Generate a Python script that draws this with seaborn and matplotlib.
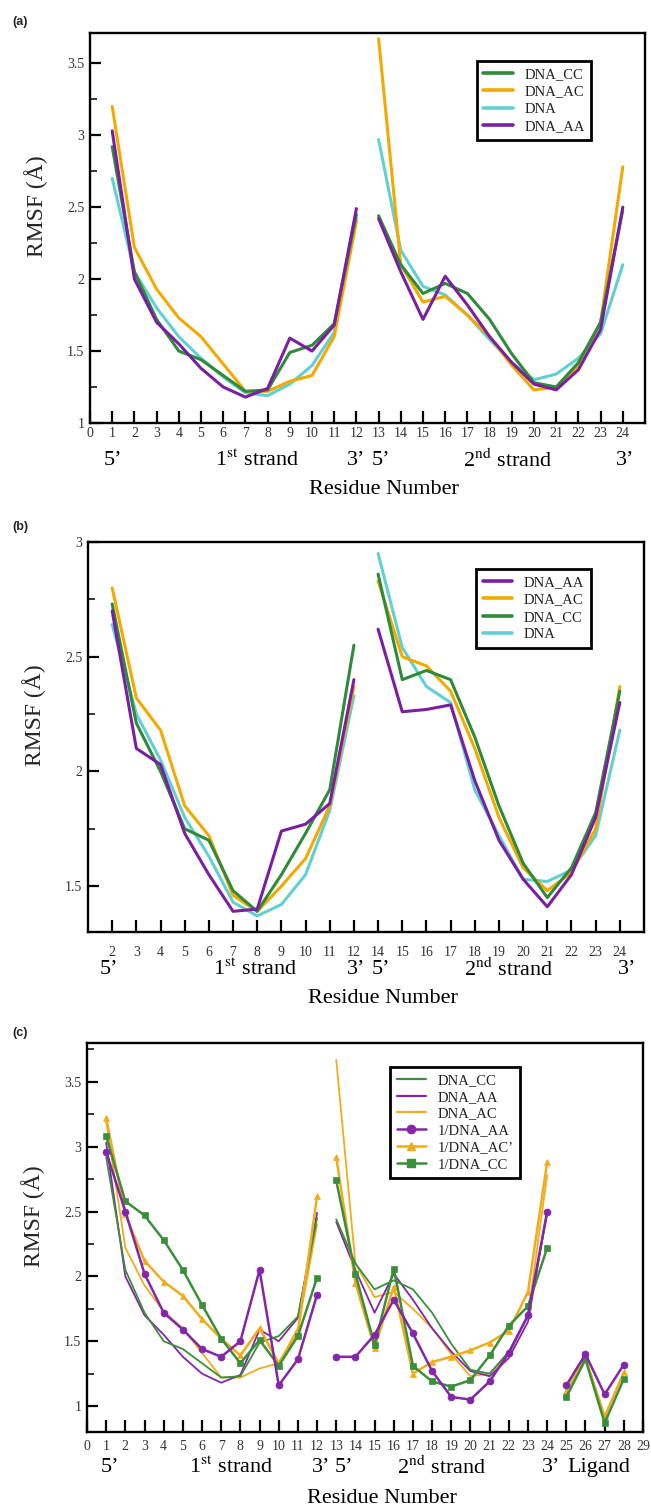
import matplotlib
matplotlib.use("Agg")
import matplotlib.pyplot as plt
import seaborn as sns
import pandas as pd
from matplotlib.ticker import MultipleLocator, FormatStrFormatter, FixedLocator, FixedFormatter
from matplotlib.lines import Line2D

# ---------------- data ----------------
# Panel (a): residues 1-12 (1st strand) and 13-24 (2nd strand)
res_a_s1 = list(range(1, 13))
res_a_s2 = list(range(13, 25))
a_CC = [2.92, 2.05, 1.72, 1.50, 1.44, 1.33, 1.22, 1.23, 1.49, 1.54, 1.69, 2.45,
        2.44, 2.10, 1.90, 1.97, 1.90, 1.72, 1.48, 1.28, 1.25, 1.42, 1.70, 2.48]
a_AC = [3.20, 2.22, 1.93, 1.73, 1.60, 1.41, 1.22, 1.22, 1.29, 1.33, 1.60, 2.40,
        3.67, 2.10, 1.84, 1.88, 1.75, 1.60, 1.40, 1.23, 1.25, 1.40, 1.70, 2.78]
a_DNA = [2.70, 2.05, 1.80, 1.60, 1.45, 1.32, 1.21, 1.19, 1.27, 1.40, 1.63, 2.42,
         2.97, 2.20, 1.95, 1.89, 1.75, 1.58, 1.42, 1.30, 1.34, 1.45, 1.62, 2.10]
a_AA = [3.03, 2.00, 1.70, 1.55, 1.38, 1.25, 1.18, 1.24, 1.59, 1.50, 1.68, 2.49,
        2.42, 2.05, 1.72, 2.02, 1.82, 1.60, 1.42, 1.27, 1.23, 1.37, 1.65, 2.50]

# Panel (b): residues 2-12 and 14-24 on consecutive positions
res_b_s1 = [2, 3, 4, 5, 6, 7, 8, 9, 10, 11, 12]
res_b_s2 = [14, 15, 16, 17, 18, 19, 20, 21, 22, 23, 24]
b_AA = [2.70, 2.10, 2.03, 1.73, 1.55, 1.39, 1.40, 1.74, 1.77, 1.86, 2.40,
        2.62, 2.26, 2.27, 2.29, 1.96, 1.70, 1.53, 1.41, 1.55, 1.80, 2.30]
b_AC = [2.80, 2.32, 2.18, 1.85, 1.72, 1.46, 1.39, 1.50, 1.62, 1.85, 2.37,
        2.83, 2.50, 2.46, 2.35, 2.10, 1.80, 1.58, 1.48, 1.56, 1.75, 2.37]
b_CC = [2.73, 2.21, 2.00, 1.75, 1.70, 1.48, 1.39, 1.55, 1.73, 1.92, 2.55,
        2.86, 2.40, 2.44, 2.40, 2.15, 1.85, 1.60, 1.45, 1.58, 1.82, 2.35]
b_DNA = [2.64, 2.25, 2.05, 1.80, 1.63, 1.43, 1.37, 1.42, 1.55, 1.83, 2.33,
         2.95, 2.54, 2.37, 2.30, 1.92, 1.72, 1.53, 1.52, 1.57, 1.72, 2.18]

# Panel (c): complexes with ligand, residues 1-12, 13-24, ligand 25-28
res_c_s1 = list(range(1, 13))
res_c_s2 = list(range(13, 25))
res_c_lig = [25, 26, 27, 28]
c1_AA = [2.96, 2.50, 2.02, 1.72, 1.59, 1.44, 1.38, 1.50, 2.05, 1.16, 1.36, 1.86,
         1.38, 1.38, 1.55, 1.82, 1.56, 1.27, 1.07, 1.05, 1.19, 1.41, 1.70, 2.50,
         1.16, 1.40, 1.09, 1.32]
c1_AC = [3.22, 2.48, 2.12, 1.96, 1.85, 1.67, 1.52, 1.39, 1.60, 1.33, 1.57, 2.62,
         2.92, 1.95, 1.45, 1.92, 1.25, 1.34, 1.38, 1.43, 1.49, 1.58, 1.88, 2.88,
         1.12, 1.37, 0.92, 1.26]
c1_CC = [3.08, 2.58, 2.47, 2.28, 2.05, 1.78, 1.52, 1.33, 1.51, 1.31, 1.54, 1.99,
         2.74, 2.02, 1.47, 2.06, 1.31, 1.19, 1.15, 1.20, 1.39, 1.62, 1.77, 2.22,
         1.07, 1.36, 0.87, 1.21]

# ---------------- style ----------------
sns.set_theme(style="white")
plt.rcParams["font.family"] = ["Liberation Serif", "DejaVu Serif"]
plt.rcParams["mathtext.fontset"] = "stix"

C_AA = "#7a1fa2"
C_AC = "#f2a900"
C_CC = "#2e8b3a"
C_DNA = "#62cfd2"

fig = plt.figure(figsize=(6.51, 15.06), dpi=100)
W, H = 651.0, 1506.0


def make_ax(left, top, right, bottom):
    return fig.add_axes([left / W, 1 - bottom / H, (right - left) / W, (bottom - top) / H])


def seg_plot(ax, xs, ys, color, lw, label=None, marker=None, ms=5, z=2):
    kw = {}
    if marker is not None:
        kw = dict(marker=marker, markersize=ms, markeredgecolor=color,
                  markerfacecolor=color, markeredgewidth=0.5)
    sns.lineplot(x=xs, y=ys, ax=ax, color=color, linewidth=lw, label=label,
                 estimator=None, sort=False, legend=False, zorder=z, **kw)


def style_ax(ax, xpad):
    for s in ax.spines.values():
        s.set_linewidth(1.7)
        s.set_color("black")
    ax.tick_params(axis="x", which="major", direction="in", length=9, width=1.6,
                   top=False, bottom=True, labelsize=10, pad=xpad, colors="black",
                   labelcolor="#333333")
    ax.tick_params(axis="y", which="major", direction="in", length=8, width=1.6,
                   left=True, right=False, labelsize=10, pad=4, colors="black",
                   labelcolor="#333333")
    ax.tick_params(axis="y", which="minor", direction="in", length=5, width=1.3,
                   left=True, right=False)
    ax.yaxis.set_major_locator(MultipleLocator(0.5))
    ax.yaxis.set_minor_locator(MultipleLocator(0.25))
    ax.yaxis.set_major_formatter(FormatStrFormatter("%g"))
    ax.set_ylabel("RMSF (Å)", fontsize=17)
    ax.yaxis.set_label_coords(-0.075, 0.555)
    ax.set_xlabel("")
    ax.grid(False)


def annotate(ax, items, yrow, panel):
    tr = ax.get_xaxis_transform()
    for x, txt in items:
        ax.text(x, yrow, txt, transform=tr, ha="center", va="center",
                fontsize=16, color="black")
    ax.text(0.53, -0.17, "Residue Number", transform=ax.transAxes, ha="center",
            va="center", fontsize=16, color="black")
    fig.text(12 / W, 1 - panel[1] / H, panel[0], fontsize=9, fontweight="bold",
             family=["Liberation Sans", "DejaVu Sans"], ha="left", va="center")


def make_legend(ax, handles, labels, anchor, fs=10.5, spacing=0.3):
    leg = ax.legend(handles, labels, loc="upper left", bbox_to_anchor=anchor,
                    frameon=True, fancybox=False, shadow=False, framealpha=1,
                    edgecolor="black", fontsize=fs, handlelength=2.0,
                    handletextpad=0.8, borderpad=0.45, labelspacing=spacing,
                    borderaxespad=0)
    leg.get_frame().set_linewidth(2.0)
    for t in leg.get_texts():
        t.set_color("#222222")


# ---------------- panel (a) ----------------
axa = make_ax(90, 33, 645, 423)
n1 = len(res_a_s1)
for vals, col in [(a_DNA, C_DNA), (a_AC, C_AC), (a_CC, C_CC), (a_AA, C_AA)]:
    seg_plot(axa, res_a_s1, vals[:n1], col, 2.2)
    seg_plot(axa, res_a_s2, vals[n1:], col, 2.2)
axa.set_xlim(0, 25)
axa.set_ylim(1, 3.71)
style_ax(axa, 3)
axa.xaxis.set_major_locator(FixedLocator(list(range(0, 25))))
axa.xaxis.set_major_formatter(FixedFormatter([str(i) for i in range(0, 25)]))
make_legend(axa,
            [Line2D([], [], color=c, lw=2.6) for c in (C_CC, C_AC, C_DNA, C_AA)],
            ["DNA_CC", "DNA_AC", "DNA", "DNA_AA"], (0.697, 0.928))
annotate(axa, [(1.05, "5’"), (7.55, r"1$^{\rm st}$ strand"), (12.0, "3’"),
               (13.1, "5’"), (18.8, r"2$^{\rm nd}$ strand"), (24.1, "3’")],
         -0.095, ("(a)", 22))

# ---------------- panel (b) ----------------
axb = make_ax(88, 542, 644, 932)
res_b = res_b_s1 + res_b_s2
pos_b = list(range(1, len(res_b) + 1))
m1 = len(res_b_s1)
for vals, col in [(b_DNA, C_DNA), (b_AC, C_AC), (b_CC, C_CC), (b_AA, C_AA)]:
    seg_plot(axb, pos_b[:m1], vals[:m1], col, 2.2)
    seg_plot(axb, pos_b[m1:], vals[m1:], col, 2.2)
axb.set_xlim(0, len(res_b) + 1)
axb.set_ylim(1.3, 3.0)
style_ax(axb, 10)
axb.xaxis.set_major_locator(FixedLocator(pos_b))
axb.xaxis.set_major_formatter(FixedFormatter([str(r) for r in res_b]))
make_legend(axb,
            [Line2D([], [], color=c, lw=2.6) for c in (C_AA, C_AC, C_CC, C_DNA)],
            ["DNA_AA", "DNA_AC", "DNA_CC", "DNA"], (0.698, 0.931))
annotate(axb, [(0.85, "5’"), (6.9, r"1$^{\rm st}$ strand"), (11.1, "3’"),
               (12.1, "5’"), (17.4, r"2$^{\rm nd}$ strand"), (22.3, "3’")],
         -0.097, ("(b)", 527))

# ---------------- panel (c) ----------------
axc = make_ax(87, 1043, 643, 1432)
C2_AA = "#8326aa"
C2_AC = "#f0ac1c"
C2_CC = "#3b8f3b"
for vals, col in [(a_AC, C2_AC), (a_AA, C2_AA), (a_CC, C2_CC)]:
    seg_plot(axc, res_a_s1, vals[:n1], col, 1.3)
    seg_plot(axc, res_a_s2, vals[n1:], col, 1.3)
k1, k2 = len(res_c_s1), len(res_c_s1) + len(res_c_s2)
for vals, col, mk in [(c1_AC, C2_AC, "^"), (c1_CC, C2_CC, "s"), (c1_AA, C2_AA, "o")]:
    seg_plot(axc, res_c_s1, vals[:k1], col, 1.8, marker=mk, z=3)
    seg_plot(axc, res_c_s2, vals[k1:k2], col, 1.8, marker=mk, z=3)
    seg_plot(axc, res_c_lig, vals[k2:], col, 1.8, marker=mk, z=3)
axc.set_xlim(0, 29)
axc.set_ylim(0.8, 3.8)
style_ax(axc, 6)
axc.xaxis.set_major_locator(FixedLocator(list(range(0, 30))))
axc.xaxis.set_major_formatter(FixedFormatter([str(i) for i in range(0, 30)]))
hc = [Line2D([], [], color=C2_CC, lw=1.6),
      Line2D([], [], color=C2_AA, lw=1.6),
      Line2D([], [], color=C2_AC, lw=1.6),
      Line2D([], [], color=C2_AA, lw=1.8, marker="o", ms=6),
      Line2D([], [], color=C2_AC, lw=1.8, marker="^", ms=6),
      Line2D([], [], color=C2_CC, lw=1.8, marker="s", ms=6)]
make_legend(axc, hc, ["DNA_CC", "DNA_AA", "DNA_AC", "1/DNA_AA", "1/DNA_AC’", "1/DNA_CC"],
            (0.545, 0.938), fs=10.5, spacing=0.25)
annotate(axc, [(1.2, "5’"), (7.5, r"1$^{\rm st}$ strand"), (12.2, "3’"),
               (13.4, "5’"), (18.5, r"2$^{\rm nd}$ strand"), (24.2, "3’"),
               (26.7, "Ligand")],
         -0.09, ("(c)", 1033))

fig.savefig("out.png", dpi=100, facecolor="white")
